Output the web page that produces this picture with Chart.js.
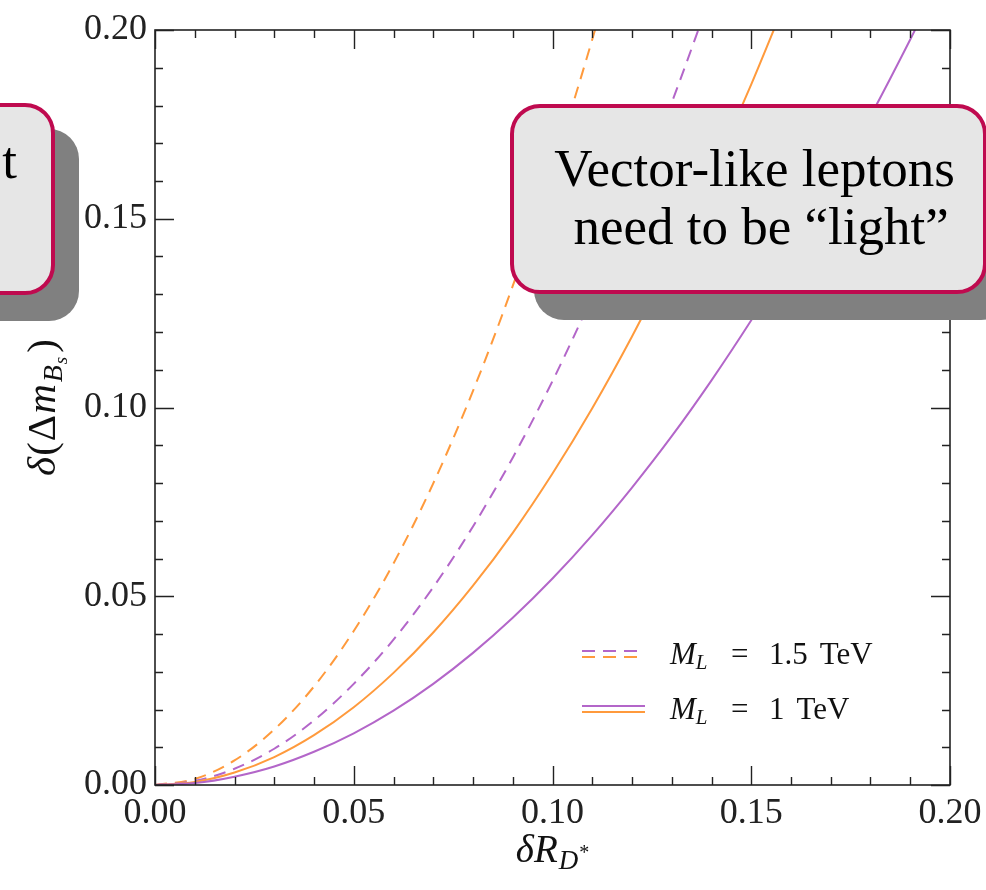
<!DOCTYPE html>
<html>
<head>
<meta charset="utf-8">
<script src="https://cdn.jsdelivr.net/npm/chart.js@4"></script>
<style>
  html, body { margin:0; padding:0; background:#fff; }
  #wrap { position:relative; width:986px; height:890px; overflow:hidden; }
  canvas { display:block; }
  .callout {
    position:absolute; box-sizing:border-box;
    background:#e6e6e6; border:4px solid #bf0a4f; border-radius:30px;
    box-shadow:24px 26px 0 #808080;
    font-family:'Liberation Serif','Times New Roman',serif; font-size:53px; line-height:58px; color:#000;
    display:flex; text-align:center; white-space:pre;
  }
  #rightBox { left:510px; top:104px; width:477px; height:190px; align-items:center; justify-content:center; padding-left:12px; padding-bottom:4px; }
  #leftBox { left:-400px; top:103px; width:455px; height:192px; align-items:flex-start; justify-content:flex-end; padding-right:34px; padding-top:24px; }
</style>
</head>
<body>
<div id="wrap">
  <canvas id="c" width="986" height="890"></canvas>
  <div class="callout" id="rightBox">Vector-like leptons
 need to be “light”</div>
  <div class="callout" id="leftBox">t</div>
</div>
<script>
// ---- data ----
const xValues = [0, 0.01, 0.02, 0.03, 0.04, 0.05, 0.06, 0.07, 0.08, 0.09, 0.10,
                 0.11, 0.12, 0.13, 0.14, 0.15, 0.16, 0.17, 0.18, 0.19, 0.20];
// M_L = 1.5 TeV (dashed)
const orangeDashed = [0, 0.0016, 0.0065, 0.0147, 0.0261, 0.0408, 0.0587, 0.0799, 0.1044, 0.1322, 0.1632, 0.1975, 0.2350];
const purpleDashed = [0, 0.0011, 0.0043, 0.0096, 0.0171, 0.0268, 0.0385, 0.0524, 0.0685, 0.0867, 0.1070, 0.1295, 0.1541, 0.1808, 0.2097];
// M_L = 1 TeV (solid)
const orangeSolid = [0, 0.0008, 0.0033, 0.0074, 0.0132, 0.0206, 0.0297, 0.0404, 0.0528, 0.0668, 0.0825, 0.0998, 0.1188, 0.1394, 0.1617, 0.1856, 0.2112];
const purpleSolid = [0, 0.0005, 0.0022, 0.0049, 0.0088, 0.0137, 0.0197, 0.0268, 0.0350, 0.0443, 0.0547, 0.0662, 0.0788, 0.0924, 0.1072, 0.1231, 0.1400, 0.1581, 0.1772, 0.1975, 0.2188];
const xTickLabels = ['0.00', '0.05', '0.10', '0.15', '0.20'];
const yTickLabels = ['0.00', '0.05', '0.10', '0.15', '0.20'];
const minorTickValues = [0, 0.01, 0.02, 0.03, 0.04, 0.05, 0.06, 0.07, 0.08, 0.09, 0.10,
                         0.11, 0.12, 0.13, 0.14, 0.15, 0.16, 0.17, 0.18, 0.19, 0.20];
const legendLabels = [['1.5', 'TeV'], ['1', 'TeV']];

const ORANGE = '#ff9a3c';
const PURPLE = '#b366c9';
const FONT = "'Liberation Serif','Times New Roman',serif";

function toPoints(ys) { return ys.map((y, i) => ({ x: xValues[i], y: y })); }

function ds(label, ys, color, dashed) {
  return {
    label, data: toPoints(ys), borderColor: color, backgroundColor: color,
    borderWidth: 2, borderDash: dashed ? [12, 8] : [], pointRadius: 0,
    cubicInterpolationMode: 'monotone', fill: false
  };
}

function fixScale(size, horizontal) {
  return function (scale) {
    if (horizontal) scale.height = size; else scale.width = size;
    scale.paddingLeft = 0; scale.paddingRight = 0; scale.paddingTop = 0; scale.paddingBottom = 0;
  };
}

const decor = {
  id: 'decor',
  afterDraw(chart) {
    const { ctx, chartArea: a, scales: { x, y } } = chart;
    ctx.save();
    // frame
    ctx.strokeStyle = '#222';
    ctx.lineWidth = 1.6;
    ctx.strokeRect(a.left, a.top, a.right - a.left, a.bottom - a.top);
    // inward ticks on all four sides
    ctx.lineWidth = 1.4;
    ctx.beginPath();
    minorTickValues.forEach((v, i) => {
      const L = (i % 5 === 0) ? 19 : 8;
      const px = Math.round(x.getPixelForValue(v)) + 0.5;
      ctx.moveTo(px, a.bottom); ctx.lineTo(px, a.bottom - L);
      ctx.moveTo(px, a.top); ctx.lineTo(px, a.top + L);
      const py = Math.round(y.getPixelForValue(v)) + 0.5;
      ctx.moveTo(a.left, py); ctx.lineTo(a.left + L, py);
      ctx.moveTo(a.right, py); ctx.lineTo(a.right - L, py);
    });
    ctx.stroke();

    ctx.fillStyle = '#111';
    ctx.textBaseline = 'alphabetic';
    // x-axis title: δR_{D*}
    {
      const main = 'italic 39px ' + FONT, sub = 'italic 27px ' + FONT, sup = '20px ' + FONT;
      ctx.font = main; const w1 = ctx.measureText('δR').width;
      ctx.font = sub; const w2 = ctx.measureText('D').width;
      ctx.font = sup; const w3 = ctx.measureText('*').width;
      const total = w1 + w2 + w3 + 2;
      let cx = (a.left + a.right) / 2 - total / 2;
      const base = 862;
      ctx.font = main; ctx.fillText('δR', cx, base); cx += w1 + 1;
      ctx.font = sub; ctx.fillText('D', cx, base + 7); cx += w2 + 1;
      ctx.font = sup; ctx.fillText('*', cx, base - 3);
    }
    // y-axis title: δ(Δm_{B_s})
    {
      ctx.save();
      ctx.translate(55, (a.top + a.bottom) / 2);
      ctx.rotate(-Math.PI / 2);
      const main = 'italic 41px ' + FONT, up = '41px ' + FONT, sub = 'italic 28px ' + FONT, sub2 = 'italic 19px ' + FONT;
      const parts = [
        ['δ', main, 0, 1], ['(', up, 0, 1], ['Δ', up, 0, 1], ['m', main, 0, 2],
        ['B', sub, 7, 1], ['s', sub2, 12, 4], [')', up, 0, 0]
      ];
      let total = 0;
      parts.forEach(p => { ctx.font = p[1]; p.push(ctx.measureText(p[0]).width); total += p[4] + p[3]; });
      let cx = -total / 2;
      parts.forEach(p => { ctx.font = p[1]; ctx.fillText(p[0], cx, p[2]); cx += p[4] + p[3]; });
      ctx.restore();
    }
    // legend
    {
      const rows = [
        { yLine: 651, base: 664, dashed: true, lab: legendLabels[0] },
        { yLine: 706, base: 719, dashed: false, lab: legendLabels[1] }
      ];
      rows.forEach(r => {
        ctx.lineWidth = 2;
        ctx.setLineDash(r.dashed ? [13, 8] : []);
        ctx.strokeStyle = PURPLE;
        ctx.beginPath(); ctx.moveTo(582, r.yLine); ctx.lineTo(645, r.yLine); ctx.stroke();
        ctx.strokeStyle = ORANGE;
        ctx.beginPath(); ctx.moveTo(582, r.yLine + 6); ctx.lineTo(645, r.yLine + 6); ctx.stroke();
        ctx.setLineDash([]);
        ctx.fillStyle = '#111';
        ctx.font = 'italic 31px ' + FONT; ctx.fillText('M', 670, r.base);
        const wm = ctx.measureText('M').width;
        ctx.font = 'italic 21px ' + FONT; ctx.fillText('L', 670 + wm, r.base + 5);
        ctx.font = '31px ' + FONT; ctx.fillText('=', 731, r.base);
        ctx.fillText(r.lab[0], 769, r.base);
        const wn = ctx.measureText(r.lab[0]).width;
        ctx.fillText(r.lab[1], 769 + wn + 12, r.base);
      });
    }
    ctx.restore();
  }
};

new Chart(document.getElementById('c'), {
  type: 'line',
  data: {
    datasets: [
      ds('M_L = 1 TeV (purple)', purpleSolid, PURPLE, false),
      ds('M_L = 1 TeV (orange)', orangeSolid, ORANGE, false),
      ds('M_L = 1.5 TeV (purple)', purpleDashed, PURPLE, true),
      ds('M_L = 1.5 TeV (orange)', orangeDashed, ORANGE, true)
    ]
  },
  options: {
    responsive: false, animation: false, devicePixelRatio: 1,
    layout: { padding: { left: 0, top: 30, right: 36, bottom: 0 } },
    plugins: { legend: { display: false }, tooltip: { enabled: false } },
    scales: {
      x: {
        type: 'linear', min: 0, max: 0.2,
        grid: { display: false, drawTicks: false },
        border: { display: false },
        ticks: { stepSize: 0.05, padding: 7, color: '#222', font: { family: FONT, size: 36 },
                 maxRotation: 0, callback: (v, i) => xTickLabels[i] },
        afterFit: fixScale(105, true)
      },
      y: {
        type: 'linear', min: 0, max: 0.2,
        grid: { display: false, drawTicks: false },
        border: { display: false },
        ticks: { stepSize: 0.05, padding: 8, color: '#222', font: { family: FONT, size: 36 },
                 callback: (v, i) => yTickLabels[i] },
        afterFit: fixScale(155, false)
      }
    }
  },
  plugins: [decor]
});
</script>
</body>
</html>
